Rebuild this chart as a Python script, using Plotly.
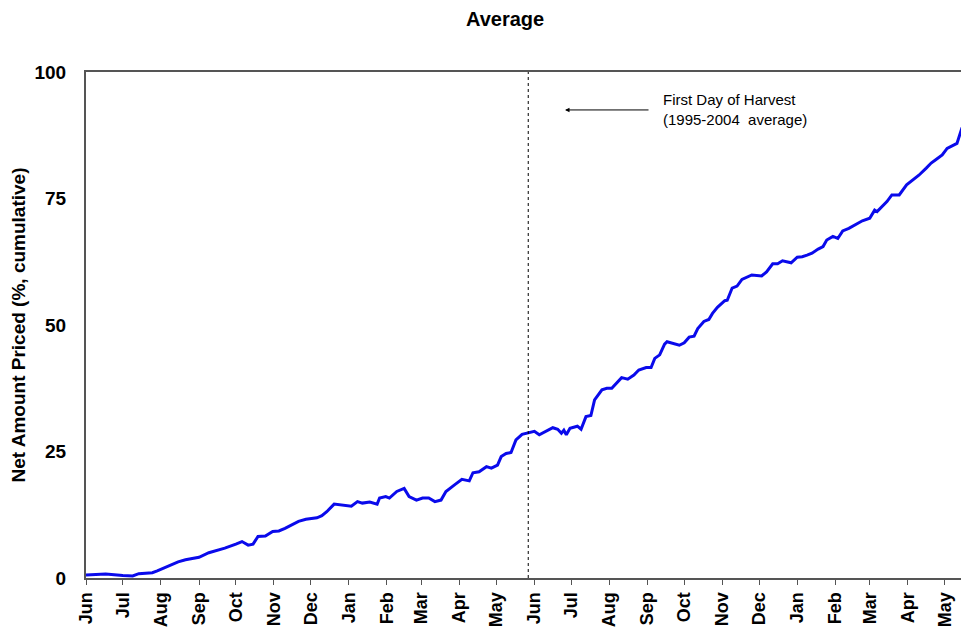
import plotly.graph_objects as go
import pandas as pd

# days since the first June (x), cumulative % priced
days = [0, 16, 30, 38, 43, 54, 58, 65, 70, 75, 81, 86, 92, 100, 108, 113, 122, 127,
        132, 136, 140, 146, 152, 157, 162, 168, 173, 179, 188, 192, 196, 202, 209,
        216, 221, 225, 231, 237, 239, 244, 247, 253, 259, 263, 269, 274, 279, 284,
        289, 293, 300, 306, 312, 315, 320, 326, 330, 335, 338, 342, 346, 350, 355,
        361, 365, 369, 376, 380, 384, 387, 389, 391, 394, 400, 403, 407, 411, 414,
        420, 424, 428, 432, 436, 441, 446, 450, 456, 460, 463, 467, 471, 473, 479,
        483, 487, 491, 495, 498, 503, 507, 510, 514, 520, 522, 526, 530, 534, 542,
        550, 554, 559, 563, 567, 574, 579, 583, 587, 591, 596, 600, 603, 608, 612,
        616, 621, 627, 632, 638, 642, 644, 652, 656, 662, 668, 673, 678, 684, 688,
        692, 697, 701, 705, 709, 713, 717, 719]
priced = [0.6, 0.8, 0.5, 0.4, 0.85, 1.05, 1.4, 2.1, 2.6, 3.2, 3.6, 3.8, 4.1, 5.0, 5.5,
          5.9, 6.7, 7.2, 6.5, 6.7, 8.2, 8.3, 9.2, 9.3, 9.8, 10.5, 11.2, 11.6, 11.9, 12.3,
          13.1, 14.6, 14.4, 14.2, 15.1, 14.8, 15.0, 14.6, 15.8, 16.1, 15.8, 17.1, 17.7,
          16.1, 15.4, 15.8, 15.8, 15.1, 15.4, 17.1, 18.4, 19.5, 19.2, 20.8, 21.0, 22.0,
          21.7, 22.3, 24.0, 24.6, 24.8, 27.3, 28.4, 28.7, 29.0, 28.3, 29.2, 29.7, 29.4,
          28.6, 29.2, 28.3, 29.6, 30.0, 29.4, 31.9, 32.1, 35.2, 37.2, 37.5, 37.5, 38.5,
          39.6, 39.3, 40.1, 41.1, 41.6, 41.6, 43.4, 44.1, 46.2, 46.7, 46.2, 46.0, 46.5,
          47.6, 47.8, 49.3, 50.7, 51.1, 52.3, 53.5, 54.8, 54.9, 57.3, 57.7, 59.0, 59.9,
          59.7, 60.5, 62.1, 62.1, 62.7, 62.3, 63.4, 63.5, 63.8, 64.2, 65.0, 65.5, 66.8,
          67.5, 67.1, 68.6, 69.1, 69.9, 70.6, 71.1, 72.7, 72.4, 74.4, 75.7, 75.7, 77.7,
          78.7, 79.6, 81.0, 82.0, 82.7, 83.6, 84.9, 85.4, 85.9, 88.9, 90.2, 91.0]

start = pd.Timestamp("2001-06-01")
harvest_day = 360
x_end_day = 718.8
y_ticks = [0, 25, 50, 75, 100]

dates = [start + pd.Timedelta(days=d) for d in days]
harvest = start + pd.Timedelta(days=harvest_day)
x_end = start + pd.Timedelta(days=x_end_day)

FONT = "Arial, Liberation Sans, sans-serif"

fig = go.Figure()
fig.add_trace(go.Scatter(
    x=dates, y=priced, mode="lines",
    line=dict(color="rgb(10,10,235)", width=3),
    showlegend=False,
))

fig.add_shape(type="line", xref="x", yref="paper", x0=harvest, x1=harvest, y0=0, y1=1,
              line=dict(color="black", width=1, dash="dot"))

# arrow pointing at the harvest line
fig.add_annotation(xref="paper", yref="paper", x=0.5425, y=0.925, ax=85, ay=0,
                   text="", showarrow=True, arrowhead=2, arrowsize=0.9,
                   arrowwidth=1, arrowcolor="black")
fig.add_annotation(xref="paper", yref="paper", x=0.651, y=0.925, xanchor="left",
                   yanchor="middle", align="left", showarrow=False,
                   text="First Day of Harvest<br>(1995-2004  average)",
                   font=dict(family=FONT, size=15, color="black"))

fig.update_layout(
    width=969, height=638,
    margin=dict(l=78, r=8, t=64, b=68),
    paper_bgcolor="white", plot_bgcolor="white",
    title=dict(text="<b>Average</b>", x=0.513, xanchor="center", y=0.994,
               yanchor="top", font=dict(family=FONT, size=20, color="black")),
    font=dict(family=FONT, color="black"),
)

fig.update_xaxes(
    type="date", range=[start, x_end], tick0=start, dtick="M1", tickformat="%b",
    tickangle=-90, ticks="outside", ticklen=5, tickcolor="#555",
    tickfont=dict(family=FONT, size=18, color="black", weight="bold"),
    showline=True, linecolor="#555", linewidth=2, mirror=True,
    showgrid=False, zeroline=False, automargin=False,
)
fig.update_yaxes(
    range=[0, 100], tickvals=y_ticks, ticks="", ticklabelstandoff=14,
    tickfont=dict(family=FONT, size=19, color="black", weight="bold"),
    showline=True, linecolor="#555", linewidth=2, mirror=False,
    showgrid=False, zeroline=False, automargin=False,
    title=dict(text="<b>Net Amount Priced (%, cumulative)</b>", standoff=8,
               font=dict(family=FONT, size=19, color="black")),
)

fig.write_html("out.html")
